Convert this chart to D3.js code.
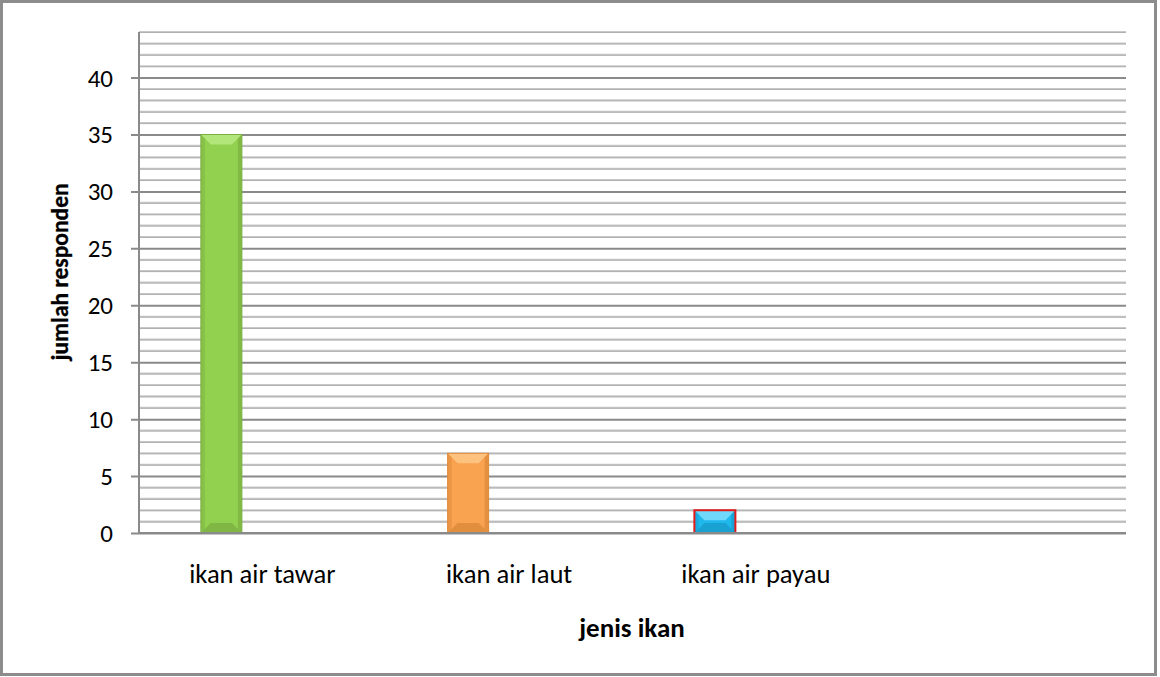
<!DOCTYPE html>
<html>
<head>
<meta charset="utf-8">
<script src="https://cdn.jsdelivr.net/npm/d3@7"></script>
<style>
  body { margin: 0; background: #fff; }
  text { font-family: Carlito, 'Open Sans', sans-serif; fill: #000; }
</style>
</head>
<body>
<div id="chart"></div>
<script>
const categories = ['ikan air tawar', 'ikan air laut', 'ikan air payau', '']
const values = [35, 7, 2, null]
const series = ['jumlah', 'kosong1', 'kosong2']
const yTicks = [0, 5, 10, 15, 20, 25, 30, 35, 40]
const yMax = 44
const xTitle = 'jenis ikan'
const yTitle = 'jumlah responden'

const fills = [
  { body: '#92d050', light: '#b3e67a', dark: '#6e9e38', stroke: '#7bb043' },
  { body: '#f9a24f', light: '#fdc27e', dark: '#c97a2e', stroke: '#e08a3a' },
  { body: '#1fb8ec', light: '#6fd8fb', dark: '#138ab8', stroke: '#e01b1b' }
]

const W = 1160
const H = 677
const margin = { top: 32, right: 34, bottom: 144, left: 139 }
const width = W - margin.left - margin.right
const height = H - margin.top - margin.bottom

const root = d3.select('#chart')
  .append('svg')
  .attr('width', W)
  .attr('height', H)

// outer frame
root.append('rect')
  .attr('x', 1.5).attr('y', 1.5)
  .attr('width', 1154).attr('height', 673)
  .attr('fill', '#fff')
  .attr('stroke', '#8c8c8c')
  .attr('stroke-width', 3)

const svg = root.append('g')
  .attr('transform', 'translate(' + margin.left + ',' + margin.top + ')')

const x = d3.scaleBand().domain(categories).range([0, width])
const xInner = d3.scaleBand().domain(series).range([-61.5, 61.5])
const y = d3.scaleLinear().domain([0, yMax]).range([height, 0])

// minor gridlines, every unit
const minor = d3.range(1, yMax + 1).filter(d => d % 5 !== 0)
svg.selectAll('.minor')
  .data(minor)
  .enter()
  .append('line')
  .attr('x1', 0).attr('x2', width)
  .attr('y1', d => y(d)).attr('y2', d => y(d))
  .attr('stroke', '#c8c8c8')
  .attr('stroke-width', 2)
svg.selectAll('.minor-shade')
  .data(minor)
  .enter()
  .append('line')
  .attr('x1', 0).attr('x2', width)
  .attr('y1', d => y(d) + 0.5).attr('y2', d => y(d) + 0.5)
  .attr('stroke', '#b0b0b0')
  .attr('stroke-width', 1)

// major gridlines and axis
const yAxis = d3.axisLeft(y)
  .tickValues(yTicks)
  .tickSize(-width)
  .tickPadding(0)
const yg = svg.append('g').call(yAxis)
yg.select('.domain').remove()
yg.selectAll('.tick line')
  .attr('x1', -8)
  .attr('stroke', '#8a8a8a')
  .attr('stroke-width', 2)
yg.selectAll('.tick text')
  .attr('x', -26)
  .attr('dy', '0.34em')
  .attr('font-size', 25)
  .attr('font-family', 'Carlito, "Open Sans", sans-serif')

svg.append('line')
  .attr('x1', 0).attr('x2', 0)
  .attr('y1', 0).attr('y2', height)
  .attr('stroke', '#8a8a8a')
  .attr('stroke-width', 2)

// bars
const data = categories.map((c, i) => ({ cat: c, value: values[i], i: i }))
  .filter(d => d.value !== null)

const barX = d => x(d.cat) + x.bandwidth() / 2 + xInner(series[0])

const bar = svg.selectAll('.bar')
  .data(data)
  .enter()
  .append('g')
  .attr('class', 'bar')

bar.append('rect')
  .attr('x', barX)
  .attr('y', d => y(d.value))
  .attr('width', xInner.bandwidth())
  .attr('height', d => height - y(d.value))
  .attr('fill', d => fills[d.i].body)

function bevel(d, which) {
  const x0 = barX(d)
  const x1 = x0 + xInner.bandwidth()
  const y0 = y(d.value)
  const y1 = height
  const b = Math.min(10, (y1 - y0) / 2)
  if (which === 'top') return [[x0, y0], [x1, y0], [x1 - b, y0 + b], [x0 + b, y0 + b]]
  if (which === 'bottom') return [[x0, y1], [x1, y1], [x1 - b, y1 - b], [x0 + b, y1 - b]]
  if (which === 'left') return [[x0, y0], [x0 + 4, y0 + 4], [x0 + 4, y1 - 4], [x0, y1]]
  return [[x1, y0], [x1 - 4, y0 + 4], [x1 - 4, y1 - 4], [x1, y1]]
}

bar.append('polygon')
  .attr('points', d => bevel(d, 'top').join(' '))
  .attr('fill', d => fills[d.i].light)
bar.append('polygon')
  .attr('points', d => bevel(d, 'bottom').join(' '))
  .attr('fill', d => fills[d.i].dark)
  .attr('opacity', 0.5)
bar.append('polygon')
  .attr('points', d => bevel(d, 'left').join(' '))
  .attr('fill', d => fills[d.i].dark)
  .attr('opacity', 0.3)
bar.append('polygon')
  .attr('points', d => bevel(d, 'right').join(' '))
  .attr('fill', d => fills[d.i].dark)
  .attr('opacity', 0.45)

bar.append('rect')
  .attr('x', barX)
  .attr('y', d => y(d.value))
  .attr('width', xInner.bandwidth())
  .attr('height', d => height - y(d.value))
  .attr('fill', 'none')
  .attr('stroke', d => fills[d.i].stroke)
  .attr('stroke-width', d => d.i === 2 ? 2 : 1)

// x axis line
svg.append('line')
  .attr('x1', 0).attr('x2', width)
  .attr('y1', height).attr('y2', height)
  .attr('stroke', '#8a8a8a')
  .attr('stroke-width', 2)

// category labels
svg.selectAll('.cat')
  .data(categories)
  .enter()
  .append('text')
  .attr('x', d => x(d) + x.bandwidth() / 2)
  .attr('y', height + 50)
  .attr('text-anchor', 'middle')
  .attr('font-size', 26.6)
  .text(d => d)

// axis titles
root.append('text')
  .attr('x', 632)
  .attr('y', 637)
  .attr('text-anchor', 'middle')
  .attr('font-size', 27)
  .attr('font-weight', 'bold')
  .text(xTitle)

root.append('text')
  .attr('transform', 'translate(68,' + 272 + ') rotate(-90)')
  .attr('text-anchor', 'middle')
  .attr('font-size', 23.5)
  .attr('font-weight', 'bold')
  .attr('stroke', '#000')
  .attr('stroke-width', 0.3)
  .text(yTitle)
</script>
</body>
</html>
